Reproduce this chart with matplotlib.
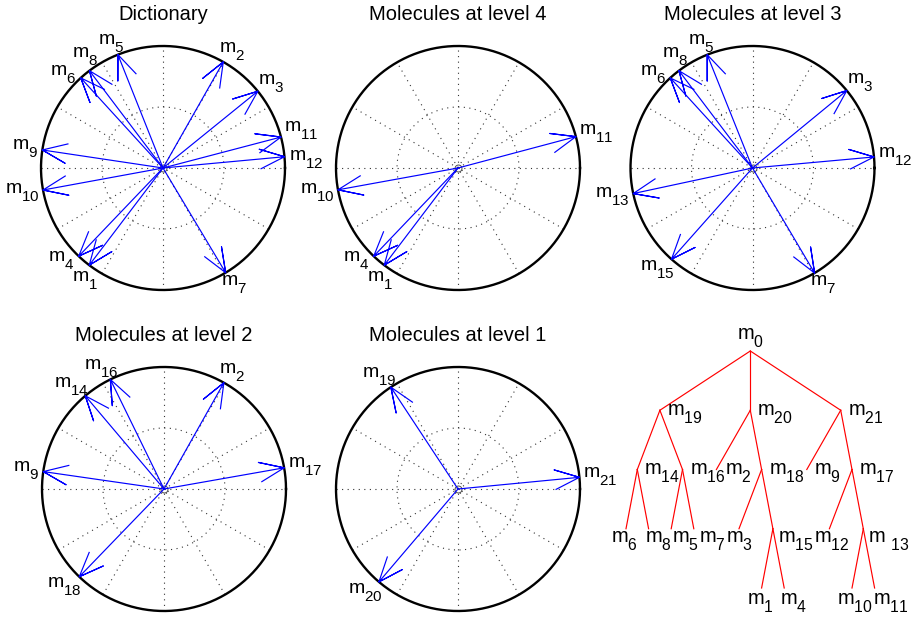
import numpy as np
import matplotlib
matplotlib.use("Agg")
import matplotlib.pyplot as plt

plt.rcParams['font.family'] = ['Liberation Sans', 'DejaVu Sans']
plt.rcParams['mathtext.fontset'] = 'custom'
plt.rcParams['mathtext.rm'] = 'Liberation Sans'
plt.rcParams['mathtext.it'] = 'Liberation Sans'
plt.rcParams['mathtext.default'] = 'regular'
try:
    import matplotlib._mathtext as _mt
    _mt.FontConstantsBase.sub1 = 0.8
    _mt.SHRINK_FACTOR = 0.78
except Exception:
    pass

# ---------------- data ----------------
panel_titles = ['Dictionary', 'Molecules at level 4', 'Molecules at level 3',
                'Molecules at level 2', 'Molecules at level 1']

dict_ids = [1, 2, 3, 4, 5, 6, 7, 8, 9, 10, 11, 12]
dict_angles = [232.8, 60.4, 39.0, 226.3, 111.7, 132.4, 300.9, 127.1, 171.5, 190.4, 14.7, 5.3]

lvl4_ids = [1, 4, 10, 11]
lvl4_angles = [232.8, 226.3, 190.3, 14.9]

lvl3_ids = [3, 5, 6, 7, 8, 12, 13, 15]
lvl3_angles = [39.4, 111.8, 132.4, 300.6, 127.1, 5.2, 192.1, 228.4]

lvl2_ids = [2, 9, 14, 16, 17, 18]
lvl2_angles = [60.6, 171.8, 130.2, 116.1, 10.0, 226.0]

lvl1_ids = [19, 20, 21]
lvl1_angles = [123.4, 229.6, 5.5]

# tree: node ids, parents (children listed in left-to-right order), label texts
tree_nodes = [0, 19, 20, 21, 14, 16, 2, 18, 9, 17, 6, 8, 5, 7, 3, 15, 12, 13, 1, 4, 10, 11]
tree_parents = [None, 0, 0, 0, 19, 19, 20, 20, 21, 21, 14, 14, 16, 16, 18, 18, 17, 17, 15, 15, 13, 13]
tree_labels = ['m$_{0}$', 'm$_{19}$', 'm$_{20}$', 'm$_{21}$', 'm$_{14}$', 'm$_{16}$', 'm$_{2}$',
               'm$_{18}$', 'm$_{9}$', 'm$_{17}$', 'm$_{6}$', 'm$_{8}$', 'm$_{5}$', 'm$_{7}$',
               'm$_{3}$', 'm$_{15}$', 'm$_{12}$', 'm $_{13}$', 'm$_{1}$', 'm$_{4}$',
               'm$_{10}$', 'm$_{11}$']

# ---------------- figure ----------------
W, H = 916, 619
fig = plt.figure(figsize=(W / 100, H / 100), dpi=100)

R = 122.0   # circle radius in pixels
L = 1.32    # half-extent of each compass axes in data units
centers = [(163, 168), (458, 168), (752.5, 168), (164, 489), (458, 489)]
panel_data = [(dict_ids, dict_angles), (lvl4_ids, lvl4_angles), (lvl3_ids, lvl3_angles),
              (lvl2_ids, lvl2_angles), (lvl1_ids, lvl1_angles)]

FS = 14
TFS = 14.5
dot_style = dict(ls=(0, (1, 4)), color='0.2', lw=0.8)
t = np.linspace(0, 2 * np.pi, 400)

# MATLAB compass arrow shape
arr_a = np.array([0, 1, .8, 1, .8])
arr_b = np.array([0, 0, .08, 0, -.08])

for (cx, cy), title, (ids, angs) in zip(centers, panel_titles, panel_data):
    ax = fig.add_axes([(cx - L * R) / W, (H - cy - L * R) / H, 2 * L * R / W, 2 * L * R / H])
    ax.set_xlim(-L, L)
    ax.set_ylim(-L, L)
    ax.axis('off')
    # grid
    ax.plot(0.5 * np.cos(t), 0.5 * np.sin(t), **dot_style)
    for a in np.deg2rad(np.arange(0, 180, 30)):
        ax.plot([-np.cos(a), np.cos(a)], [-np.sin(a), np.sin(a)], **dot_style)
    ax.plot(np.cos(t), np.sin(t), color='k', lw=1.7)
    ax.plot(0, 0, 'o', ms=5, mfc='none', mec='0.3', mew=0.7)
    # arrows
    for i, ang in zip(ids, angs):
        th = np.deg2rad(ang)
        c, s = np.cos(th), np.sin(th)
        xs = arr_a * c - arr_b * s
        ys = arr_a * s + arr_b * c
        ax.plot(xs, ys, color=(0, 0, 1), lw=0.85)
        # label position: elliptical offset beyond tip, spread apart close neighbours
        nd = len(str(i))
        ox = 0.14 + 0.035 * (nd - 1)
        oy = 0.105
        px, py = c + c * ox, s + s * oy
        spread = 0.0
        for ang2 in angs:
            diff = ang - ang2
            if diff != 0 and abs(diff) < 11:
                spread += np.sign(diff) * min(8.0, 2.2 * (11 - abs(diff))) / R
        px += -s * spread
        py += c * spread
        ax.text(px, py, 'm$_{%d}$' % i, ha='center', va='center', fontsize=FS)
    ax.text(0, 1.21, title, ha='center', va='baseline', fontsize=TFS)

# ---------------- tree ----------------
children = {n: [] for n in tree_nodes}
parent = {}
root = None
for n, p in zip(tree_nodes, tree_parents):
    parent[n] = p
    if p is None:
        root = n
    else:
        children[p].append(n)

depth, span, leaf_order = {}, {}, []


def dfs(n, d):
    depth[n] = d
    if not children[n]:
        leaf_order.append(n)
        k = len(leaf_order)
        span[n] = (k, k)
        return
    for ch in children[n]:
        dfs(ch, d + 1)
    span[n] = (span[children[n][0]][0], span[children[n][-1]][1])


dfs(root, 0)
xpos = {n: 0.5 * (span[n][0] + span[n][1]) for n in tree_nodes}

# pixel mapping of the tree axes
sx, sy = 22.6, 59.25          # pixels per leaf step / per level
x_left_px, x_right_px = 596, 916
y_top_px, y_bot_px = 320, 619
leaf1_px, root_px = 626, 351
axt = fig.add_axes([x_left_px / W, (H - y_bot_px) / H,
                    (x_right_px - x_left_px) / W, (y_bot_px - y_top_px) / H])
axt.set_xlim(1 + (x_left_px - leaf1_px) / sx, 1 + (x_right_px - leaf1_px) / sx)
axt.set_ylim((y_bot_px - root_px) / sy, (y_top_px - root_px) / sy)
axt.axis('off')

for n in tree_nodes:
    p = parent[n]
    if p is not None:
        axt.plot([xpos[p], xpos[n]], [depth[p], depth[n]], color=(1, 0, 0), lw=0.85)

TRFS = 14.5
labels = {}
for n, lab in zip(tree_nodes, tree_labels):
    d = depth[n]
    leaf = not children[n]
    if n == root:
        off, ha, va = (0, 1), 'center', 'bottom'
    elif d <= 2:
        off, ha, va = (7, -4), 'left', 'center'
    else:
        dy = 0 if d == 3 else -3
        if not leaf:
            off = (5, dy)
        else:
            first = children[parent[n]].index(n) == 0
            off = (-15 if first else -4, dy)
        ha, va = 'left', 'top'
    labels[n] = axt.annotate(lab, xy=(xpos[n], depth[n]), xytext=off,
                             textcoords='offset pixels', ha=ha, va=va, fontsize=TRFS)

# avoid overlapping labels on the same row (push to the right)
fig.canvas.draw()
renderer = fig.canvas.get_renderer()
for d in range(1, max(depth.values()) + 1):
    row = sorted([n for n in tree_nodes if depth[n] == d], key=lambda n: xpos[n])
    prev_right = None
    for n in row:
        bb = labels[n].get_window_extent(renderer)
        if prev_right is not None and bb.x0 < prev_right:
            shift = prev_right - bb.x0
            ox, oy = labels[n].xyann
            labels[n].xyann = (ox + shift, oy)
            bb = labels[n].get_window_extent(renderer)
        prev_right = bb.x1

fig.savefig('out.png', dpi=100)
